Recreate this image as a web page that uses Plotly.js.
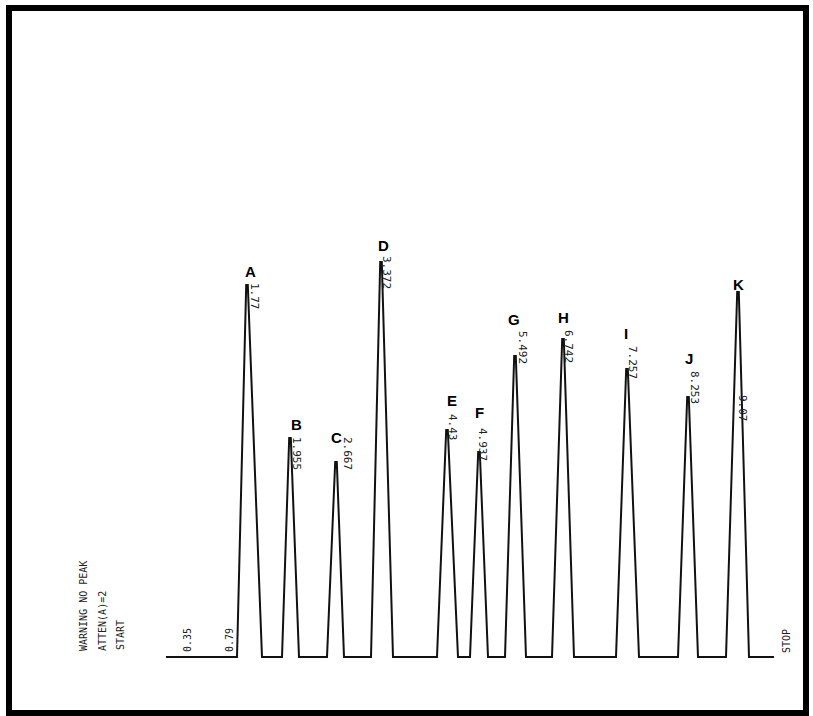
<!DOCTYPE html>
<html>
<head>
<meta charset="utf-8">
<script src="https://cdn.plot.ly/plotly-3.0.1.min.js"></script>
<style>html,body{margin:0;padding:0;background:#fff}#chart{width:813px;height:716px}</style>
</head>
<body>
<div id="chart"></div>
<script>
// Peak data
const peakNames   = ["A","B","C","D","E","F","G","H","I","J","K"];
const retTimes    = ["1.77","1.955","2.667","3.372","4.43","4.937","5.492","6.742","7.257","8.253","9.07"];
const peakPos     = [247, 290, 336, 381, 447, 479, 515, 563, 627, 688, 738];
const peakHeight  = [372, 219, 195, 395, 227, 205, 301, 318, 288, 260, 365];
const baseLeft    = [237, 282, 327, 371, 437, 470, 505, 552, 616, 678, 726];
const baseRight   = [262, 299, 344, 393, 458, 488, 526, 574, 639, 698, 749];
const baselineStart = 166;
const baselineEnd   = 774;
// Early events
const eventTimes = ["0.35","0.79"];
const eventPos   = [187, 229];
// Header messages
const messages   = ["WARNING NO PEAK","ATTEN(A)=2","START"];
const messagePos = [83, 102, 120];
const messageMid = [606, 621, 635];

// Build the trace from the peaks
const xs = [baselineStart], ys = [0];
for (let i = 0; i < peakPos.length; i++) {
  xs.push(baseLeft[i], peakPos[i] - 0.8, peakPos[i] + 0.8, baseRight[i]);
  ys.push(0, peakHeight[i], peakHeight[i], 0);
}
xs.push(baselineEnd); ys.push(0);

const mono = {family: "DejaVu Sans Mono", size: 10, color: "#222"};
const monoRt = {family: "DejaVu Sans Mono", size: 11, color: "#222"};
const ann = [];
// peak letters
const letterOffset = [14, 14, 25, 17, 30, 40, 37, 22, 36, 39, 8];
const letterDx = [3, 6, 0, 2, 5, 0, -1, 0, -1, 1, 0];
for (let i = 0; i < peakNames.length; i++) {
  ann.push({x: peakPos[i] + letterDx[i], y: peakHeight[i] + letterOffset[i], text: peakNames[i], showarrow: false,
    font: {family: "Liberation Sans", size: 15, color: "#000", weight: "bold"}, xanchor: "center", yanchor: "middle"});
}
// retention time labels (rotated, reading downward)
const rtDx = [8, 7, 12, 6, 6, 4, 8, 6, 6, 7, 5];
const rtDrop = [11, 15, -9, 10, -3, -8, -9, 7, -7, -10, 116];
for (let i = 0; i < retTimes.length; i++) {
  ann.push({x: peakPos[i] + rtDx[i], y: peakHeight[i] - rtDrop[i], text: retTimes[i], showarrow: false,
    textangle: 90, font: monoRt, xanchor: "center", yanchor: "middle"});
}
for (let i = 0; i < eventTimes.length; i++) {
  ann.push({x: eventPos[i], y: 17, text: eventTimes[i], showarrow: false, textangle: -90, font: mono,
    xanchor: "center", yanchor: "middle"});
}
for (let i = 0; i < messages.length; i++) {
  ann.push({x: messagePos[i], y: 657 - messageMid[i], text: messages[i], showarrow: false, textangle: -90, font: mono,
    xanchor: "center", yanchor: "middle"});
}
ann.push({x: 786, y: 16, text: "STOP", showarrow: false, textangle: -90, font: mono, xanchor: "center", yanchor: "middle"});

const trace = {x: xs, y: ys, type: "scatter", mode: "lines", line: {color: "#111", width: 2}, hoverinfo: "skip"};

const layout = {
  width: 813, height: 716,
  margin: {l: 0, r: 0, t: 0, b: 0},
  paper_bgcolor: "#fff", plot_bgcolor: "#fff",
  showlegend: false,
  xaxis: {range: [0, 813], visible: false, fixedrange: true},
  yaxis: {range: [-59, 657], visible: false, fixedrange: true},
  annotations: ann,
  shapes: [{type: "rect", xref: "paper", yref: "paper",
    x0: 9/813, x1: 806/813, y0: 1 - 713/716, y1: 1 - 8/716,
    line: {color: "#000", width: 6}}]
};
Plotly.newPlot("chart", [trace], layout, {staticPlot: true});
</script>
</body>
</html>
